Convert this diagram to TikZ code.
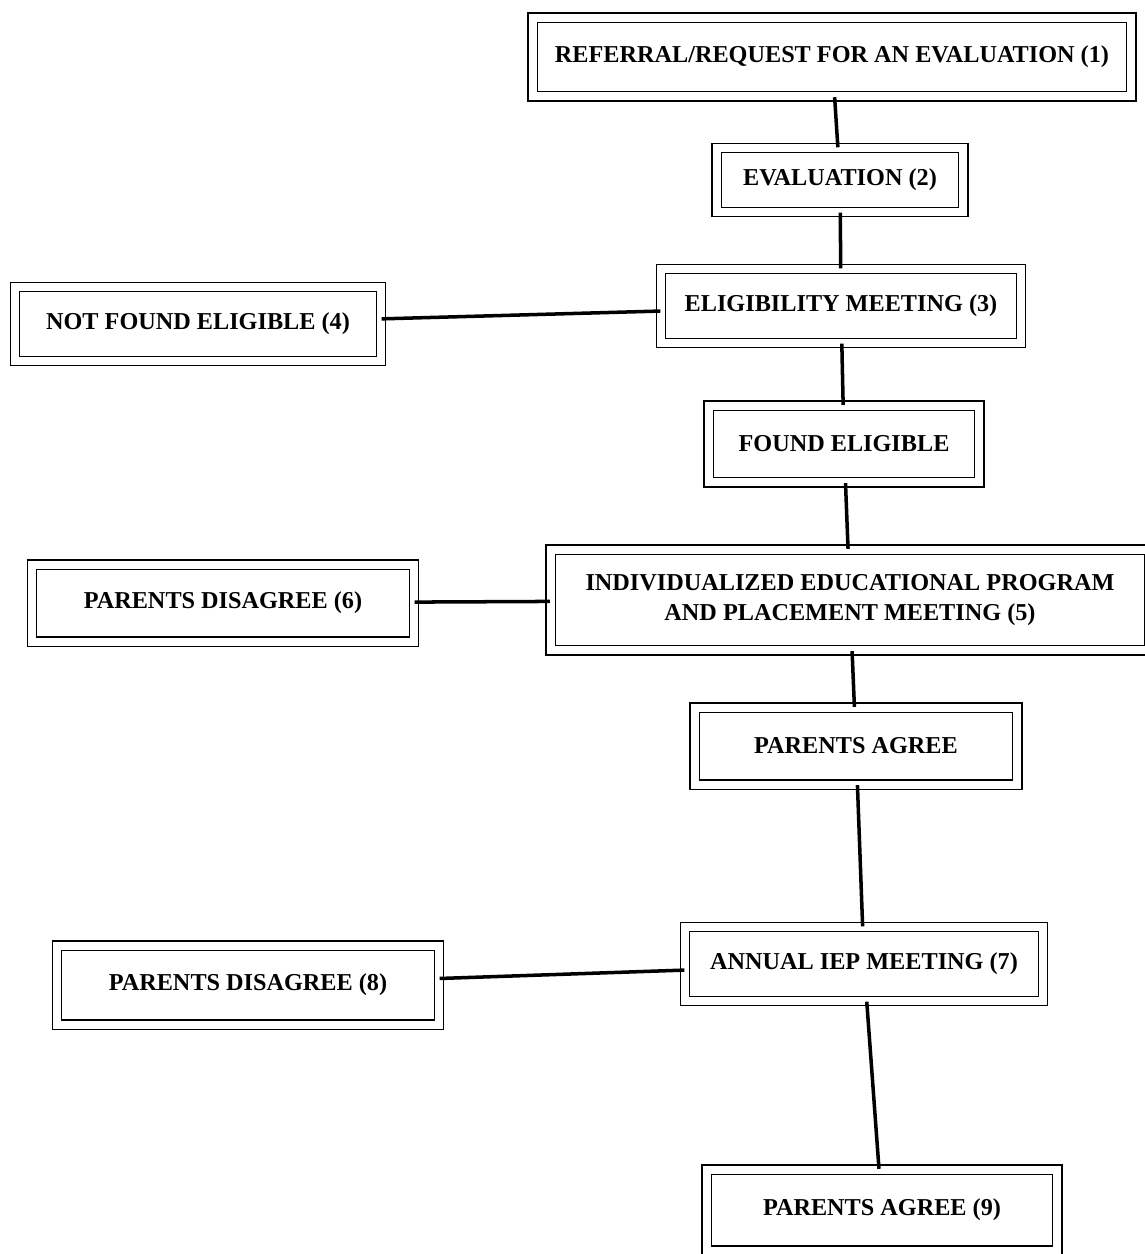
\documentclass[tikz,border=0pt]{standalone}
\usepackage{fontspec}
\setmainfont{Liberation Serif}
\usepackage{tikz}
\usetikzlibrary{positioning}
\tikzset{box/.style={draw, line width=0.8pt, double, double distance=0.16cm, align=center,
  font=\fontsize{13.8}{17}\selectfont\bfseries, inner sep=2pt},
  link/.style={line width=2pt}}

\begin{document}
\begin{tikzpicture}[x=0.02cm, y=-0.02cm]
\useasboundingbox (0,0) rectangle (1145,1254);

\node[box, minimum width=11.98cm, minimum height=1.58cm] (ref) at (832, 57) {REFERRAL/REQUEST FOR AN EVALUATION (1)};
\node[box, minimum width=4.94cm, minimum height=1.28cm] (eval) at (840, 180) {EVALUATION (2)};
\node[box, minimum width=7.2cm, minimum height=1.48cm] (elig) at (841, 306) {ELIGIBILITY MEETING (3)};
\node[box, minimum width=7.32cm, minimum height=1.48cm] (notelig) at (198, 324) {NOT FOUND ELIGIBLE (4)};
\node[box, minimum width=5.42cm, minimum height=1.54cm] (found) at (844, 444) {FOUND ELIGIBLE};
\node[box, minimum width=11.98cm, minimum height=2.02cm] (iep) at (850, 600) {INDIVIDUALIZED EDUCATIONAL PROGRAM\\AND PLACEMENT MEETING (5)};
\node[box, minimum width=7.64cm, minimum height=1.54cm] (dis6) at (223, 603) {PARENTS DISAGREE (6)};
\node[box, minimum width=6.46cm, minimum height=1.54cm] (agree) at (856, 746) {PARENTS AGREE};
\node[box, minimum width=7.16cm, minimum height=1.48cm] (annual) at (864, 964) {ANNUAL IEP MEETING (7)};
\node[box, minimum width=7.64cm, minimum height=1.58cm] (dis8) at (248, 985) {PARENTS DISAGREE (8)};
\node[box, minimum width=7.02cm, minimum height=1.62cm] (agree9) at (882, 1210) {PARENTS AGREE (9)};

\draw[link] (ref) -- (eval);
\draw[link] (eval) -- (elig);
\draw[link] (elig) -- (found);
\draw[link] (found) -- (iep);
\draw[link] (iep) -- (agree);
\draw[link] (agree) -- (annual);
\draw[link] (annual) -- (agree9);
\draw[link] (notelig) -- (elig);
\draw[link] (dis6) -- (iep);
\draw[link] (dis8) -- (annual);

\end{tikzpicture}
\end{document}
